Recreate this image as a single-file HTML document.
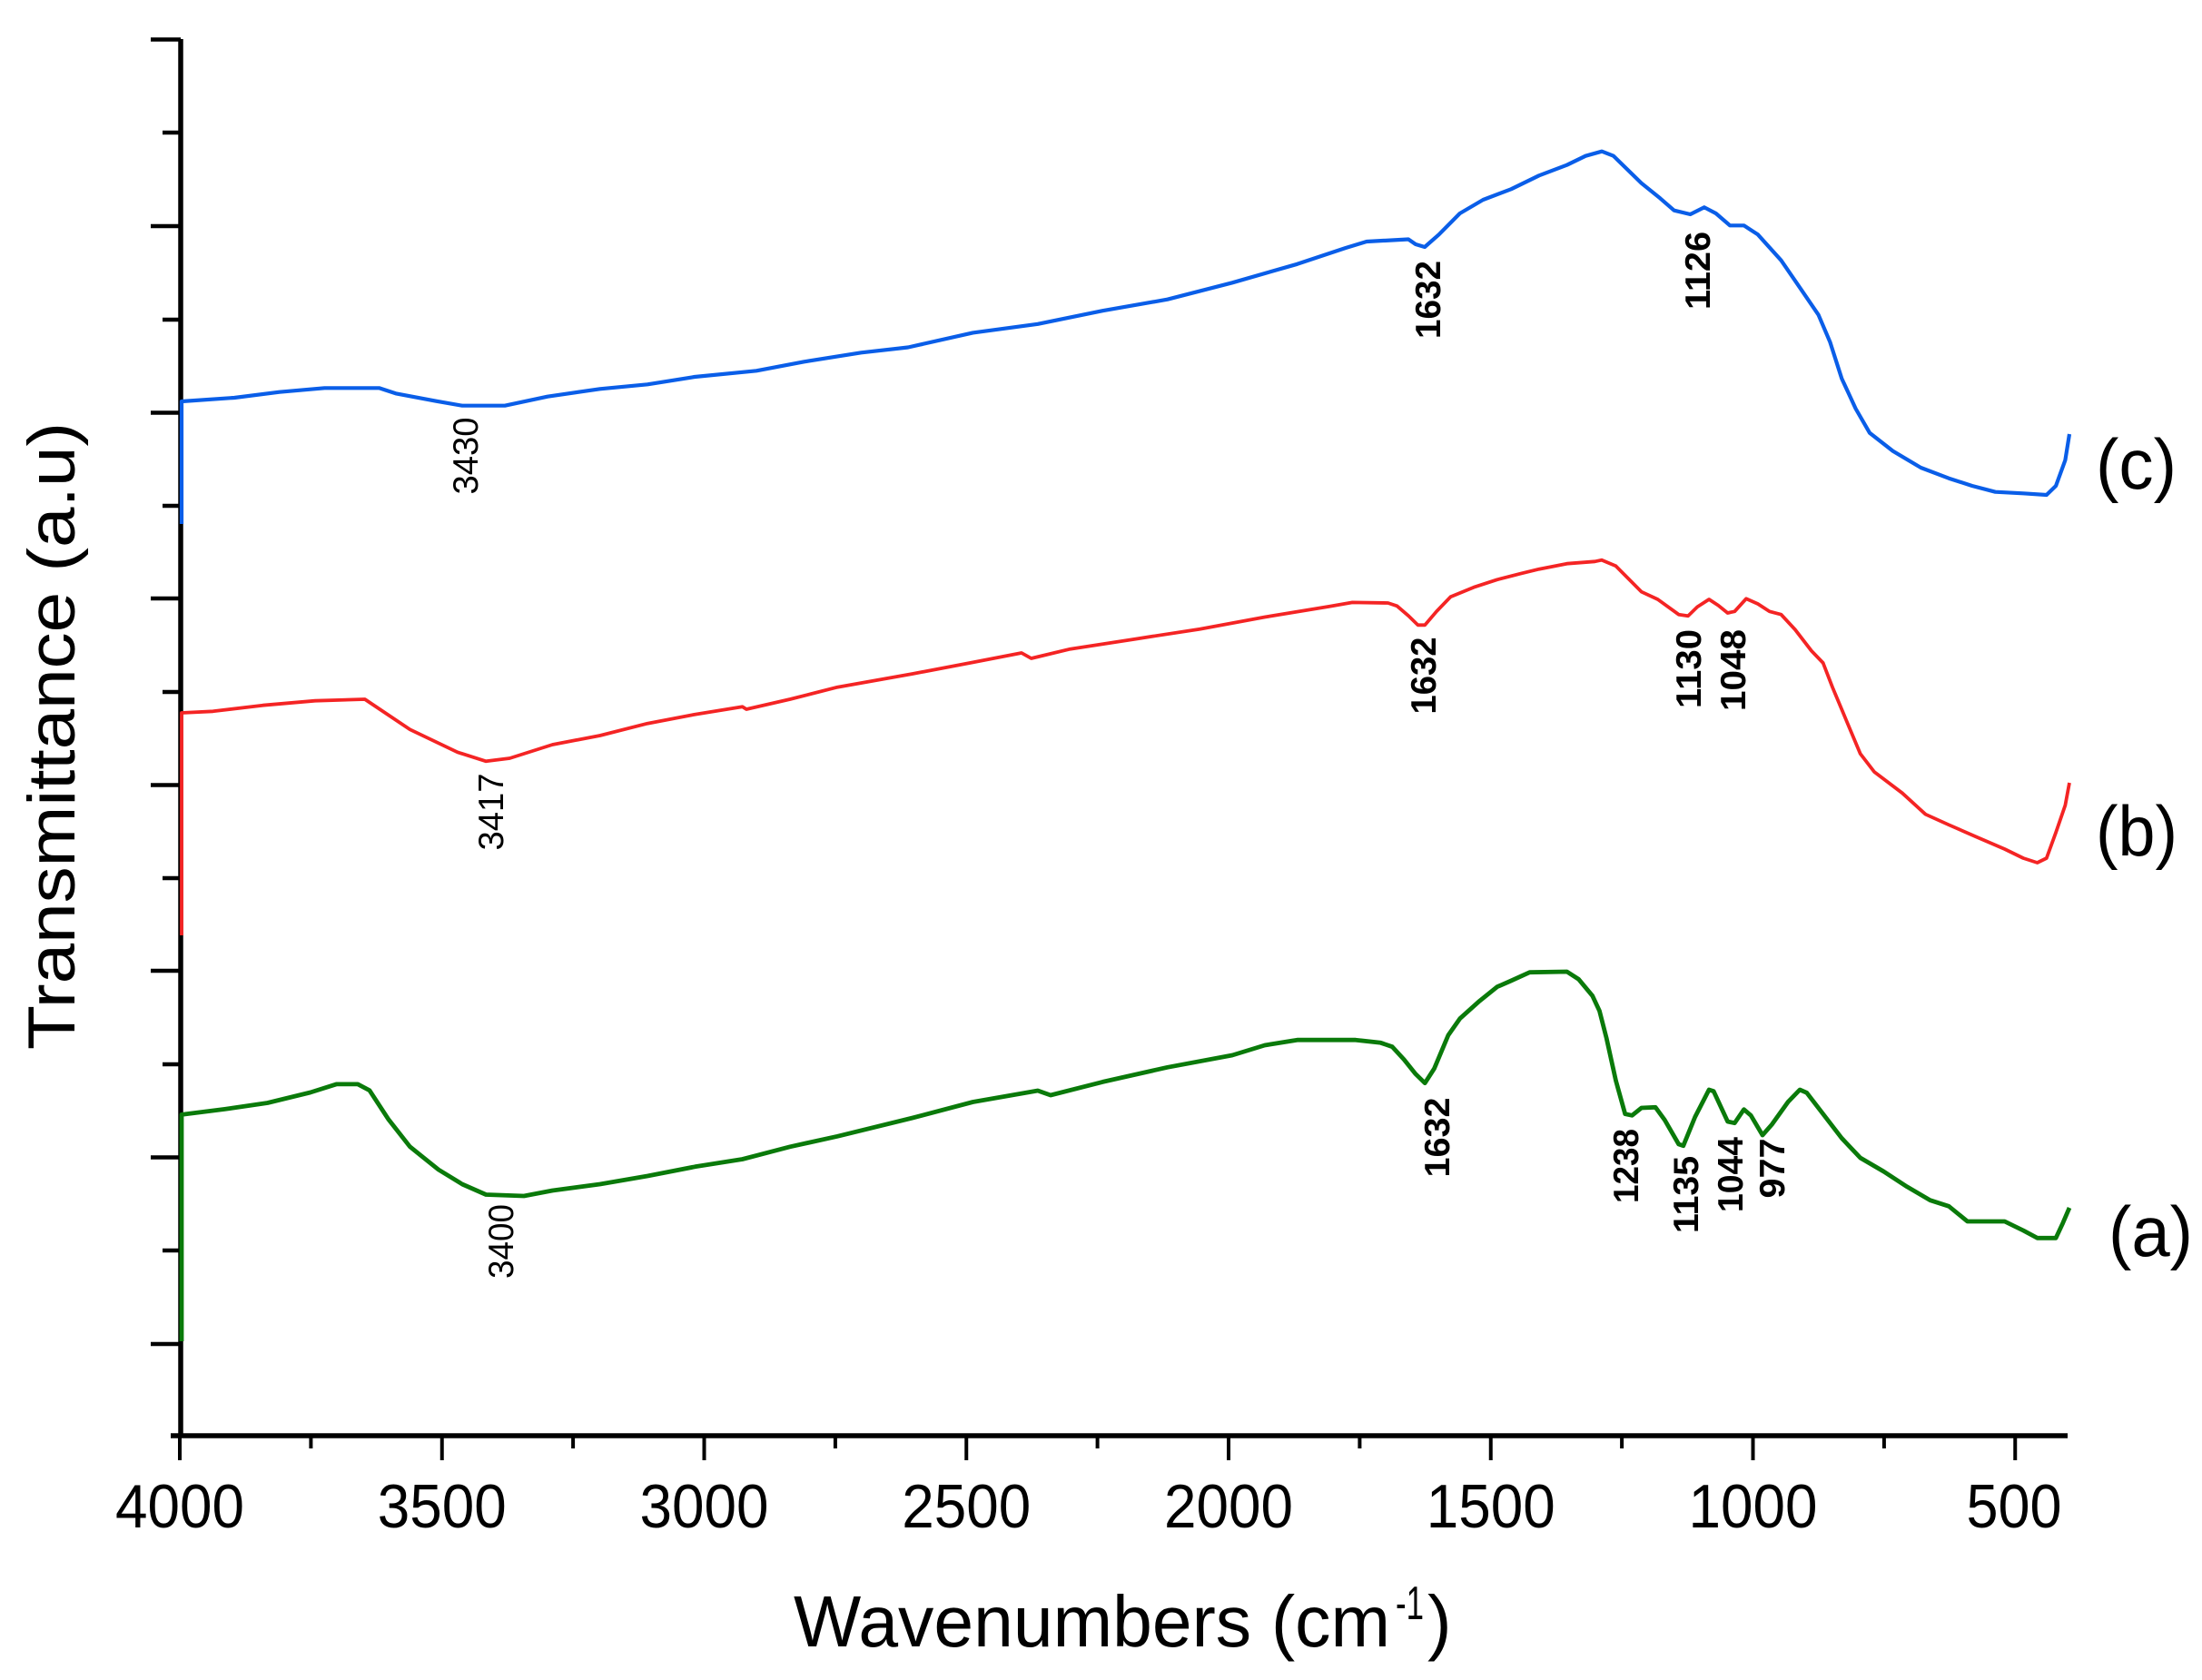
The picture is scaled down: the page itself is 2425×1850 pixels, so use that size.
<!DOCTYPE html>
<html>
<head>
<meta charset="utf-8">
<style>
  html, body { margin: 0; padding: 0; background: #ffffff; }
  svg { display: block; }
  text { font-family: "Liberation Sans", Arial, sans-serif; fill: #000; }
</style>
</head>
<body>
<svg width="2425" height="1850" viewBox="0 0 2425 1850" xmlns="http://www.w3.org/2000/svg">
  <rect x="0" y="0" width="2425" height="1850" fill="#ffffff"/>

  <!-- Y axis -->
  <line x1="199" y1="43" x2="199" y2="1583" stroke="#000" stroke-width="5.5"/>
  <!-- Y ticks major -->
  <g stroke="#000" stroke-width="4.5">
    <line x1="166" y1="43.5" x2="199" y2="43.5"/>
    <line x1="166" y1="249" x2="199" y2="249"/>
    <line x1="166" y1="454.5" x2="199" y2="454.5"/>
    <line x1="166" y1="659" x2="199" y2="659"/>
    <line x1="166" y1="864.5" x2="199" y2="864.5"/>
    <line x1="166" y1="1069" x2="199" y2="1069"/>
    <line x1="166" y1="1274.5" x2="199" y2="1274.5"/>
    <line x1="166" y1="1480" x2="199" y2="1480"/>
  </g>
  <!-- Y ticks minor -->
  <g stroke="#000" stroke-width="4.5">
    <line x1="179" y1="146" x2="199" y2="146"/>
    <line x1="179" y1="352" x2="199" y2="352"/>
    <line x1="179" y1="557" x2="199" y2="557"/>
    <line x1="179" y1="762" x2="199" y2="762"/>
    <line x1="179" y1="967" x2="199" y2="967"/>
    <line x1="179" y1="1172" x2="199" y2="1172"/>
    <line x1="179" y1="1377" x2="199" y2="1377"/>
  </g>

  <!-- X axis -->
  <line x1="188" y1="1581" x2="2277" y2="1581" stroke="#000" stroke-width="5.5"/>
  <g stroke="#000" stroke-width="4">
    <line x1="198" y1="1581" x2="198" y2="1608"/>
    <line x1="486.75" y1="1581" x2="486.75" y2="1608"/>
    <line x1="775.5" y1="1581" x2="775.5" y2="1608"/>
    <line x1="1064.25" y1="1581" x2="1064.25" y2="1608"/>
    <line x1="1353" y1="1581" x2="1353" y2="1608"/>
    <line x1="1641.75" y1="1581" x2="1641.75" y2="1608"/>
    <line x1="1930.5" y1="1581" x2="1930.5" y2="1608"/>
    <line x1="2219.25" y1="1581" x2="2219.25" y2="1608"/>
    <line x1="342.4" y1="1581" x2="342.4" y2="1595"/>
    <line x1="631.1" y1="1581" x2="631.1" y2="1595"/>
    <line x1="919.9" y1="1581" x2="919.9" y2="1595"/>
    <line x1="1208.6" y1="1581" x2="1208.6" y2="1595"/>
    <line x1="1497.4" y1="1581" x2="1497.4" y2="1595"/>
    <line x1="1786.1" y1="1581" x2="1786.1" y2="1595"/>
    <line x1="2074.9" y1="1581" x2="2074.9" y2="1595"/>
  </g>

  <!-- X tick labels -->
  <g font-size="68" text-anchor="middle">
    <text x="198" y="1682" textLength="142" lengthAdjust="spacingAndGlyphs">4000</text>
    <text x="486.75" y="1682" textLength="142" lengthAdjust="spacingAndGlyphs">3500</text>
    <text x="775.5" y="1682" textLength="142" lengthAdjust="spacingAndGlyphs">3000</text>
    <text x="1064.25" y="1682" textLength="142" lengthAdjust="spacingAndGlyphs">2500</text>
    <text x="1353" y="1682" textLength="142" lengthAdjust="spacingAndGlyphs">2000</text>
    <text x="1641.75" y="1682" textLength="142" lengthAdjust="spacingAndGlyphs">1500</text>
    <text x="1930.5" y="1682" textLength="142" lengthAdjust="spacingAndGlyphs">1000</text>
    <text x="2218" y="1682" textLength="105" lengthAdjust="spacingAndGlyphs">500</text>
  </g>

  <!-- X title -->
  <text x="874" y="1813" font-size="80" textLength="657" lengthAdjust="spacingAndGlyphs">Wavenumbers (cm</text>
  <text x="1537" y="1783" font-size="52" textLength="31" lengthAdjust="spacingAndGlyphs">-1</text>
  <text x="1572" y="1813" font-size="80">)</text>

  <!-- Y title -->
  <text transform="translate(82,810.5) rotate(-90)" font-size="73" text-anchor="middle" textLength="691" lengthAdjust="spacingAndGlyphs">Transmittance (a.u)</text>

  <!-- Series labels -->
  <text x="2308" y="538" font-size="78" textLength="89" lengthAdjust="spacingAndGlyphs">(c)</text>
  <text x="2308" y="942" font-size="78" textLength="90" lengthAdjust="spacingAndGlyphs">(b)</text>
  <text x="2322" y="1383" font-size="78" textLength="93" lengthAdjust="spacingAndGlyphs">(a)</text>

  <!-- Blue curve (c) -->
  <polyline fill="none" stroke="#0a5ee8" stroke-width="4.2" stroke-linejoin="round" points="
    200,577 200,442 258,438 307.7,431.7 357.4,427.3 417.5,427.3 435.8,433.3 480.3,441.7 509,446.7 556,446.7
    603,436.7 660.7,428.3 713,423.3 765,415 833,408.3 885.6,398.3 948.4,388.3 1000,382.5 1071.4,366.4
    1142.9,356.8 1214.3,342.2 1285.7,329.7 1357.1,311.3 1428.6,290.8 1482,273 1505,266 1551,263.5
    1559,269 1569,272 1584.6,258.3 1607.7,235 1633.3,220 1664.1,208.3 1694.9,193.3 1725.6,181.7
    1746.2,171.7 1764.1,166.7 1776.9,171.7 1807.7,201.7 1828.2,218.3 1843.6,231.7 1861.5,236 1876.9,228.3
    1889.7,235 1905.1,248.3 1920.5,248.3 1935.9,258.3 1961.5,286.7 1982.1,316.7 2002.6,346.7 2015.4,376.7
    2028.2,416.7 2043.6,450 2059,476.7 2084.6,496.7 2115.4,515 2146.2,526.7 2171.8,535 2197.4,541.7
    2228.2,543.3 2253.8,545 2264.1,535 2274.4,506.7 2279,478"/>

  <!-- Red curve (b) -->
  <polyline fill="none" stroke="#f42424" stroke-width="3.8" stroke-linejoin="round" points="
    200,1030 200,785 234.5,783.3 289.4,776.7 347,771.7 401.8,770 451.5,803.3 503.8,828.3 535.2,838.3
    561.3,835 608.4,820 660.7,810 713,796.7 765.3,786.7 817.6,778.3 822,781 870,770 922.2,756.7 1005,742
    1071.4,729.4 1125,719 1135.7,725 1178.6,714.7 1250,703.7 1321.4,692.7 1392.9,679.5 1464.3,667.8
    1489.3,663.4 1528.6,664 1538.5,667.3 1551.3,678.3 1561.5,688.3 1569.2,688.3 1582,673.3 1597.4,657.3
    1623,646.7 1648.7,638.3 1674.4,631.7 1694.9,626.7 1725.6,620.7 1756.4,618.3 1764,616.7 1779.5,623.3
    1807.7,651.7 1825.6,660 1848.7,676.7 1859,678.3 1869.2,668.3 1882.1,660 1892.3,666.7 1902.6,675
    1910.3,673.3 1923,659.3 1935.9,665 1948.7,673.3 1961.5,676.7 1976.9,693.3 1994.9,716.7 2007.7,730
    2018,756.7 2033.3,793.3 2048.7,830 2064.1,850 2094.9,873.3 2120.5,896.7 2146.2,908.3 2176.9,921.7
    2207.7,935 2228.2,945 2243.6,950 2253.8,945 2264.1,916.7 2274.4,886.7 2279,862"/>

  <!-- Green curve (a) -->
  <polyline fill="none" stroke="#0a7a0a" stroke-width="4.8" stroke-linejoin="round" points="
    200,1477 200,1227.4 247.5,1221.4 294.6,1214.5 341.7,1203 370.4,1193.9 394,1193.9 407,1200.8 428,1232.9
    451.5,1262.8 482.9,1288 509,1304 535.2,1315.5 577,1317 608.4,1311 660.7,1304 713,1295 765.3,1284.8
    817.6,1276.5 870,1262.8 922.2,1251.3 1005,1231 1071.4,1213.5 1142.9,1201 1157,1206 1214.3,1191.4
    1285.7,1175.3 1357.1,1162 1392.9,1151 1428.6,1145.2 1492.9,1145.2 1520.5,1148.3 1533.3,1152.7
    1546.2,1166.7 1559,1182.7 1569.2,1192.7 1579.5,1176.7 1594.9,1140 1607.7,1121.7 1628.2,1103.3
    1648.7,1086.7 1664.1,1080 1684.6,1070.7 1725.6,1070 1738.5,1078.3 1753.8,1096.7 1761.5,1113.3
    1769.2,1143.3 1779.5,1190 1789.7,1226.7 1797.4,1228.3 1807.7,1220 1823.1,1219.3 1833.3,1233.3
    1848.7,1260 1853.8,1261.7 1866.7,1230 1882.1,1200 1887.2,1201.7 1902.6,1235 1910.3,1236.7
    1920.5,1221.7 1928.2,1228.3 1941,1250 1951.3,1238.3 1969.2,1213.3 1982.1,1200 1989.7,1203.3
    2007.7,1226.7 2028.2,1253.3 2048.7,1275 2074.4,1290 2100,1306.7 2125.6,1321.7 2146.2,1328.3
    2166.7,1345 2207.7,1345 2217.9,1350 2228.2,1355 2243.6,1363.3 2264.1,1363.3 2271.8,1346.7 2279,1330"/>

  <!-- Peak labels (rotated) -->
  <g font-size="39" text-anchor="middle">
    <text transform="translate(512,502) rotate(-90)" dy="0.36em" textLength="85" lengthAdjust="spacingAndGlyphs">3430</text>
    <text transform="translate(540,894) rotate(-90)" dy="0.36em" textLength="85" lengthAdjust="spacingAndGlyphs">3417</text>
    <text transform="translate(551,1367) rotate(-90)" dy="0.36em" textLength="82" lengthAdjust="spacingAndGlyphs">3400</text>
  </g>
  <g font-size="39" font-weight="bold" text-anchor="middle">
    <text transform="translate(1572,330) rotate(-90)" dy="0.36em" textLength="86" lengthAdjust="spacingAndGlyphs">1632</text>
    <text transform="translate(1869,298) rotate(-90)" dy="0.36em" textLength="86" lengthAdjust="spacingAndGlyphs">1126</text>
    <text transform="translate(1567,744) rotate(-90)" dy="0.36em" textLength="85" lengthAdjust="spacingAndGlyphs">1632</text>
    <text transform="translate(1859,736.5) rotate(-90)" dy="0.36em" textLength="87" lengthAdjust="spacingAndGlyphs">1130</text>
    <text transform="translate(1908,738) rotate(-90)" dy="0.36em" textLength="90" lengthAdjust="spacingAndGlyphs">1048</text>
    <text transform="translate(1582,1252.5) rotate(-90)" dy="0.36em" textLength="88" lengthAdjust="spacingAndGlyphs">1632</text>
    <text transform="translate(1790,1284) rotate(-90)" dy="0.36em" textLength="82" lengthAdjust="spacingAndGlyphs">1238</text>
    <text transform="translate(1856,1315.5) rotate(-90)" dy="0.36em" textLength="85" lengthAdjust="spacingAndGlyphs">1135</text>
    <text transform="translate(1905,1293.5) rotate(-90)" dy="0.36em" textLength="83" lengthAdjust="spacingAndGlyphs">1044</text>
    <text transform="translate(1951,1286.5) rotate(-90)" dy="0.36em" textLength="66" lengthAdjust="spacingAndGlyphs">977</text>
  </g>
</svg>
</body>
</html>
